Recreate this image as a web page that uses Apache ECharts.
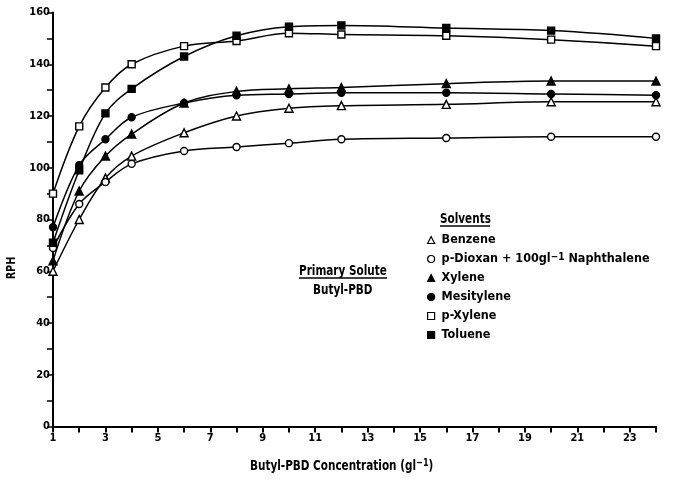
<!DOCTYPE html>
<html>
<head>
<meta charset="utf-8">
<script src="https://cdn.jsdelivr.net/npm/echarts@6/dist/echarts.min.js"></script>
<style>
  html, body { margin: 0; padding: 0; background: #fff; }
  #chart { width: 674px; height: 480px; }
</style>
</head>
<body>
<div id="chart"></div>
<script>
// Butyl-PBD concentration (g/l) at which each solvent was measured
const concentration = [1, 2, 3, 4, 6, 8, 10, 12, 16, 20, 24];

// Relative pulse height per solvent
const benzene    = [60, 80, 96, 104.5, 113.5, 120, 123, 124, 124.5, 125.5, 125.5];
const dioxan     = [69, 86, 94.5, 101.5, 106.5, 108, 109.5, 111, 111.5, 112, 112];
const xylene     = [64, 91, 104.5, 113, 125, 129.5, 130.5, 131, 132.5, 133.5, 133.5];
const mesitylene = [77, 101, 111, 119.5, 125, 128, 128.5, 129, 129, 128.5, 128];
const pXylene    = [90, 116, 131, 140, 147, 149, 152, 151.5, 151, 149.5, 147];
const toluene    = [71, 99, 121, 130.5, 143, 151, 154.5, 155, 154, 153, 150];

// Where each fitted curve runs out past the last axis tick
const tailConcentration = 24.7;
const tailValues = [126, 112.3, 133.3, 127.7, 146, 148.6];

const yTicks = [0, 20, 40, 60, 80, 100, 120, 140, 160];
const xTicks = [1, 3, 5, 7, 9, 11, 13, 15, 17, 19, 21, 23];

const solventNames = ['Benzene', 'p-Dioxan + 100gl-1 Naphthalene', 'Xylene', 'Mesitylene', 'p-Xylene', 'Toluene'];
const solventValues = [benzene, dioxan, xylene, mesitylene, pXylene, toluene];
const solventSymbols = ['triangle', 'circle', 'triangle', 'circle', 'rect', 'rect'];
const solventFilled = [false, false, true, true, false, true];

const FONT = "'DejaVu Sans Condensed', 'Liberation Sans Narrow', sans-serif";
const INK = '#000';
const NARROW = 0.83;   // horizontal squeeze for the free-standing captions

const chart = echarts.init(document.getElementById('chart'), null, { renderer: 'canvas' });

const series = solventNames.map((name, i) => {
  const pts = concentration.map((c, j) => [c, solventValues[i][j]]);
  pts.push({ value: [tailConcentration, tailValues[i]], symbol: 'none' });
  return {
    name: name,
    type: 'line',
    data: pts,
    smooth: 0.35,
    clip: false,
    symbol: solventSymbols[i],
    symbolSize: solventSymbols[i] === 'triangle' ? 8 : 7,
    lineStyle: { color: INK, width: 1.5 },
    itemStyle: {
      color: solventFilled[i] ? INK : '#fff',
      borderColor: INK,
      borderWidth: 1.4
    },
    emphasis: { disabled: true },
    z: 3 + i
  };
});

function caption(text, x, y, size) {
  return {
    type: 'text',
    x: x,
    y: y,
    scaleX: NARROW,
    style: {
      text: text,
      fill: INK,
      font: 'bold ' + size + 'px ' + FONT,
      align: 'left',
      verticalAlign: 'middle',
      rich: {
        sup: {
          font: 'bold ' + Math.round(size * 0.75) + 'px ' + FONT,
          fill: INK,
          verticalAlign: 'top',
          padding: [0, 0, 6, 0]
        }
      }
    }
  };
}

const option = {
  animation: false,
  backgroundColor: '#fff',
  textStyle: { fontFamily: FONT },
  grid: { left: 53, right: 18, top: 12.5, bottom: 53.5 },
  xAxis: {
    type: 'value',
    min: 1,
    max: 24,
    interval: 1,
    axisLine: { show: true, lineStyle: { color: INK, width: 2 } },
    axisTick: { show: true, inside: false, length: 6, lineStyle: { color: INK, width: 2 } },
    axisLabel: {
      color: INK,
      fontFamily: FONT,
      fontWeight: 'bold',
      fontSize: 11,
      margin: 6,
      formatter: v => (xTicks.indexOf(v) >= 0 ? String(v) : '')
    },
    splitLine: { show: false }
  },
  yAxis: {
    type: 'value',
    min: 0,
    max: 160,
    interval: 10,
    axisLine: { show: true, lineStyle: { color: INK, width: 2 } },
    axisTick: { show: true, inside: false, length: 6, lineStyle: { color: INK, width: 1.5 } },
    axisLabel: {
      color: INK,
      fontFamily: FONT,
      fontWeight: 'bold',
      fontSize: 11,
      margin: 3,
      formatter: v => (yTicks.indexOf(v) >= 0 ? String(v) : '')
    },
    splitLine: { show: false }
  },
  legend: {
    orient: 'vertical',
    left: 422,
    top: 228,
    itemWidth: 7,
    itemHeight: 7,
    itemGap: 5,
    selectedMode: false,
    lineStyle: { width: 0, opacity: 0 },
    data: solventNames.map((name, i) => ({
      name: name,
      icon: solventSymbols[i],
      itemStyle: {
        color: solventFilled[i] ? INK : '#fff',
        borderColor: INK,
        borderWidth: 1.2
      }
    })),
    formatter: name => name.replace('gl-1', 'gl{sup|−1}'),
    textStyle: {
      color: INK,
      fontFamily: FONT,
      fontWeight: 'bold',
      fontSize: 12.5,
      lineHeight: 14,
      padding: [0, 0, 0, 2],
      rich: {
        sup: {
          fontFamily: FONT,
          fontWeight: 'bold',
          fontSize: 10,
          color: INK,
          verticalAlign: 'top',
          padding: [0, 0, 6, 0]
        }
      }
    }
  },
  graphic: [
    caption('Solvents', 440, 219.5, 14),
    {
      type: 'line',
      shape: { x1: 440, y1: 226, x2: 490, y2: 226 },
      style: { stroke: INK, lineWidth: 1.3 }
    },
    caption('Primary Solute', 299, 271, 14),
    {
      type: 'line',
      shape: { x1: 299, y1: 278, x2: 387, y2: 278 },
      style: { stroke: INK, lineWidth: 1.3 }
    },
    caption('Butyl-PBD', 313, 290, 14),
    caption('Butyl-PBD Concentration (gl{sup|−1})', 250, 466, 14),
    {
      type: 'text',
      x: 12,
      y: 268,
      rotation: Math.PI / 2,
      scaleX: NARROW,
      style: {
        text: 'RPH',
        fill: INK,
        font: 'bold 13px ' + FONT,
        align: 'center',
        verticalAlign: 'middle'
      }
    }
  ],
  series: series
};

chart.setOption(option);
</script>
</body>
</html>
